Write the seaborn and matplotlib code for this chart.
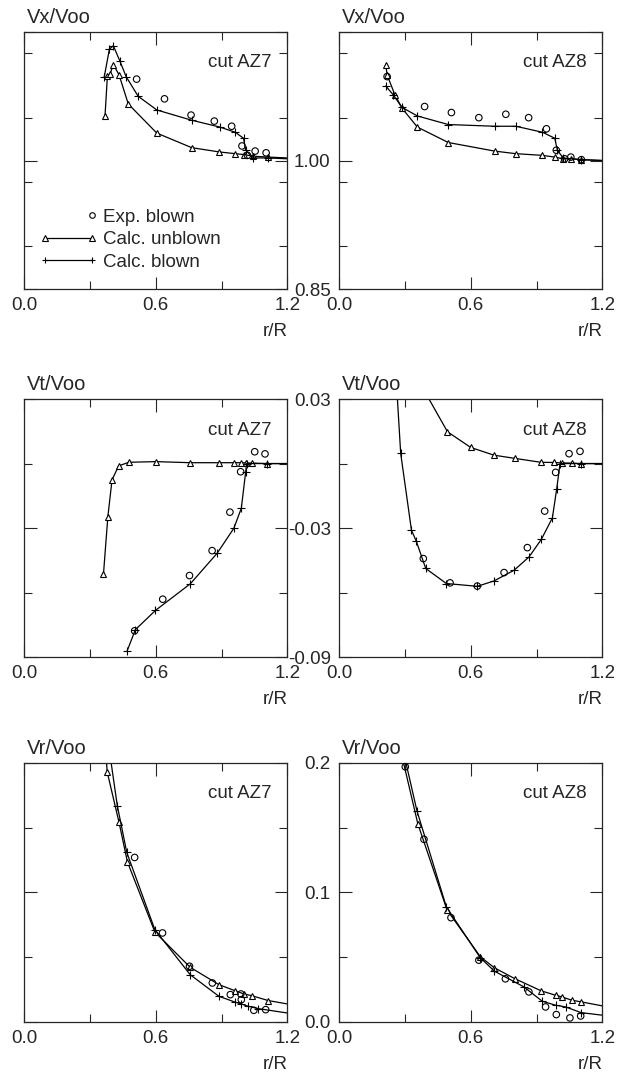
import matplotlib
matplotlib.use("Agg")
import matplotlib.pyplot as plt
import seaborn as sns
from matplotlib.lines import Line2D
from matplotlib.legend_handler import HandlerLine2D
from matplotlib.ticker import MultipleLocator

# ---- Vx/Voo, cut AZ7
vx7_unb_r = [0.369, 0.380, 0.392, 0.407, 0.433, 0.475, 0.605, 0.764, 0.890, 0.962, 1.000, 1.045, 1.113, 1.200]
vx7_unb_v = [1.052, 1.099, 1.101, 1.112, 1.100, 1.066, 1.032, 1.015, 1.010, 1.008, 1.007, 1.005, 1.004, 1.003]
vx7_bl_r = [0.365, 0.389, 0.407, 0.437, 0.465, 0.520, 0.605, 0.764, 0.893, 0.962, 1.000, 1.010, 1.045, 1.113, 1.200]
vx7_bl_v = [1.097, 1.130, 1.134, 1.116, 1.098, 1.075, 1.059, 1.047, 1.039, 1.033, 1.026, 1.012, 1.003, 1.003, 1.002]
vx7_exp_r = [0.513, 0.640, 0.761, 0.867, 0.946, 0.993, 1.018, 1.053, 1.103]
vx7_exp_v = [1.095, 1.072, 1.053, 1.046, 1.040, 1.017, 1.006, 1.011, 1.009]

# ---- Vx/Voo, cut AZ8
vx8_unb_r = [0.213, 0.219, 0.254, 0.287, 0.357, 0.498, 0.709, 0.805, 0.927, 0.983, 1.021, 1.059, 1.104, 1.200]
vx8_unb_v = [1.112, 1.100, 1.077, 1.061, 1.039, 1.021, 1.011, 1.008, 1.006, 1.004, 1.002, 1.002, 1.001, 1.000]
vx8_bl_r = [0.213, 0.246, 0.287, 0.357, 0.498, 0.709, 0.805, 0.927, 0.983, 0.995, 1.021, 1.104, 1.200]
vx8_bl_v = [1.087, 1.077, 1.062, 1.052, 1.042, 1.040, 1.040, 1.033, 1.026, 1.012, 1.003, 1.001, 1.000]
vx8_exp_r = [0.219, 0.390, 0.512, 0.637, 0.760, 0.864, 0.945, 0.990, 1.028, 1.056, 1.104]
vx8_exp_v = [1.098, 1.063, 1.056, 1.050, 1.054, 1.050, 1.037, 1.012, 1.002, 1.004, 1.001]

# ---- Vt/Voo, cut AZ7
vt7_unb_r = [0.362, 0.382, 0.401, 0.431, 0.477, 0.602, 0.758, 0.888, 0.956, 0.987, 1.010, 1.040, 1.109, 1.200]
vt7_unb_v = [-0.0514, -0.0247, -0.0076, -0.0011, 0.0006, 0.0009, 0.0004, 0.0004, 0.0004, 0.0004, 0.0003, 0.0002, 0.0, 0.0]
vt7_bl_r = [0.469, 0.507, 0.599, 0.758, 0.880, 0.956, 0.990, 1.010, 1.014, 1.109, 1.200]
vt7_bl_v = [-0.0874, -0.0773, -0.0683, -0.0559, -0.0417, -0.0301, -0.0208, -0.0038, 0.0, 0.0, 0.0]
vt7_exp_r = [0.504, 0.632, 0.754, 0.857, 0.938, 0.987, 1.051, 1.098]
vt7_exp_v = [-0.0778, -0.0631, -0.0521, -0.0405, -0.0226, -0.0038, 0.0055, 0.0045]

# ---- Vt/Voo, cut AZ8
vt8_unb_r = [0.410, 0.494, 0.600, 0.706, 0.802, 0.919, 0.980, 1.018, 1.063, 1.101, 1.200]
vt8_unb_v = [0.0300, 0.0148, 0.0075, 0.0039, 0.0024, 0.0006, 0.0005, 0.0003, 0.0002, 0.0, 0.0]
vt8_bl_r = [0.266, 0.281, 0.330, 0.352, 0.395, 0.489, 0.630, 0.706, 0.798, 0.866, 0.922, 0.972, 0.992, 1.007, 1.101, 1.200]
vt8_bl_v = [0.0300, 0.0047, -0.0310, -0.0361, -0.0488, -0.0558, -0.0571, -0.0546, -0.0496, -0.0434, -0.0352, -0.0253, -0.0116, 0.0, 0.0, 0.0]
vt8_exp_r = [0.384, 0.506, 0.630, 0.752, 0.858, 0.937, 0.987, 1.048, 1.098]
vt8_exp_v = [-0.0442, -0.0555, -0.0570, -0.0507, -0.0391, -0.0221, -0.0041, 0.0046, 0.0057]

# ---- Vr/Voo, cut AZ7
vr7_unb_r = [0.376, 0.379, 0.433, 0.471, 0.596, 0.757, 0.888, 0.960, 1.003, 1.037, 1.113, 1.200]
vr7_unb_v = [0.200, 0.193, 0.154, 0.1236, 0.0695, 0.0422, 0.0288, 0.0242, 0.0216, 0.0203, 0.0165, 0.0139]
vr7_bl_r = [0.397, 0.425, 0.468, 0.596, 0.757, 0.888, 0.960, 0.990, 1.021, 1.067, 1.200]
vr7_bl_v = [0.200, 0.167, 0.131, 0.0713, 0.0365, 0.0198, 0.0154, 0.0139, 0.0121, 0.0103, 0.0069]
vr7_exp_r = [0.504, 0.631, 0.754, 0.858, 0.940, 0.988, 0.990, 1.047, 1.101]
vr7_exp_v = [0.127, 0.0687, 0.0430, 0.0301, 0.0211, 0.0216, 0.0172, 0.0090, 0.0095]

# ---- Vr/Voo, cut AZ8
vr8_unb_r = [0.294, 0.359, 0.492, 0.644, 0.708, 0.800, 0.921, 0.987, 1.014, 1.060, 1.103, 1.200]
vr8_unb_v = [0.200, 0.153, 0.0865, 0.0503, 0.0418, 0.0335, 0.0240, 0.0206, 0.0194, 0.0168, 0.0155, 0.0124]
vr8_bl_r = [0.305, 0.355, 0.489, 0.644, 0.708, 0.842, 0.926, 0.987, 1.032, 1.103, 1.200]
vr8_bl_v = [0.200, 0.163, 0.0888, 0.0495, 0.0392, 0.0271, 0.0160, 0.0129, 0.0116, 0.0072, 0.0052]
vr8_exp_r = [0.302, 0.387, 0.510, 0.637, 0.758, 0.865, 0.941, 0.990, 1.052, 1.101]
vr8_exp_v = [0.197, 0.141, 0.0805, 0.0477, 0.0333, 0.0232, 0.0116, 0.0057, 0.0031, 0.0046]

x_ticks = [0.0, 0.6, 1.2]
x_ticklabels = ["0.0", "0.6", "1.2"]
vx_ticks, vx_labels = [0.85, 1.00, 1.15], ["0.85", "1.00", ""]
vt_ticks, vt_labels = [-0.09, -0.03, 0.03], ["-0.09", "-0.03", "0.03"]
vr_ticks, vr_labels = [0.0, 0.1, 0.2], ["0.0", "0.1", "0.2"]

sns.set_style("ticks")
plt.rcParams["font.family"] = ["Liberation Sans", "DejaVu Sans"]
plt.rcParams["axes.linewidth"] = 0.9

FS = 13.5


class RightMarkerHandler(HandlerLine2D):
    # single legend marker placed where the right marker of the line handles sits
    def create_artists(self, legend, orig_handle, xdescent, ydescent, width, height, fontsize, trans):
        arts = super().create_artists(legend, orig_handle, xdescent, ydescent, width, height, fontsize, trans)
        for a in arts:
            xd = list(a.get_xdata())
            xd[-1] = xd[-1] - self._marker_pad * fontsize
            a.set_xdata(xd)
            a.set_markevery([len(xd) - 1])
        return arts


def draw_curve(ax, r, v, marker, ms, ylim):
    keep = [i for i, (a, b) in enumerate(zip(r, v)) if a < 1.19 and ylim[0] < b < ylim[1] - 1e-9]
    sns.lineplot(x=r, y=v, ax=ax, sort=False, estimator=None, color="black", lw=0.9,
                 marker=marker, markersize=ms, markevery=keep, mfc="white", mec="black", mew=0.8)


def draw_panel(ax, unb, bl, exp, ticks, ticklabels, ylabel, cut, show_ylabels):
    ylim = (ticks[0], ticks[-1])
    draw_curve(ax, unb[0], unb[1], "^", 4.4, ylim)
    draw_curve(ax, bl[0], bl[1], "+", 5.5, ylim)
    sns.scatterplot(x=exp[0], y=exp[1], ax=ax, marker="o", s=22, facecolor="none",
                    edgecolor="black", linewidth=0.8, zorder=3)
    ax.set_xlim(0, 1.2)
    ax.set_ylim(*ylim)
    ax.set_xticks(x_ticks)
    ax.set_xticklabels(x_ticklabels, fontsize=FS)
    ax.xaxis.set_minor_locator(MultipleLocator(0.3))
    ax.set_yticks(ticks)
    ax.set_yticklabels(ticklabels, fontsize=FS)
    ax.yaxis.set_minor_locator(MultipleLocator((ticks[-1] - ticks[0]) / 4))
    ax.tick_params(which="both", direction="in", top=True, right=True, width=0.8,
                   labelleft=show_ylabels, pad=6)
    ax.tick_params(which="major", length=9)
    ax.tick_params(which="minor", length=5.5)
    for s in ax.spines.values():
        s.set_visible(True)
        s.set_linewidth(0.9)
    ax.set_ylabel("")
    ax.set_xlabel("r/R", loc="right", fontsize=FS, labelpad=6)
    ax.text(0.01, 1.02, ylabel, transform=ax.transAxes, ha="left", va="bottom", fontsize=14.5)
    ax.text(0.94, 0.88, cut, transform=ax.transAxes, ha="right", va="center", fontsize=13.5)


fig = plt.figure(figsize=(6.19, 10.78), dpi=100)
left_x, right_x, w = 0.0388, 0.5477, 0.4255
rows = [(0.7319, 0.2384), (0.3905, 0.2393), (0.0520, 0.2403)]

panels = [
    ((vx7_unb_r, vx7_unb_v), (vx7_bl_r, vx7_bl_v), (vx7_exp_r, vx7_exp_v),
     (vx8_unb_r, vx8_unb_v), (vx8_bl_r, vx8_bl_v), (vx8_exp_r, vx8_exp_v),
     vx_ticks, vx_labels, "Vx/Voo"),
    ((vt7_unb_r, vt7_unb_v), (vt7_bl_r, vt7_bl_v), (vt7_exp_r, vt7_exp_v),
     (vt8_unb_r, vt8_unb_v), (vt8_bl_r, vt8_bl_v), (vt8_exp_r, vt8_exp_v),
     vt_ticks, vt_labels, "Vt/Voo"),
    ((vr7_unb_r, vr7_unb_v), (vr7_bl_r, vr7_bl_v), (vr7_exp_r, vr7_exp_v),
     (vr8_unb_r, vr8_unb_v), (vr8_bl_r, vr8_bl_v), (vr8_exp_r, vr8_exp_v),
     vr_ticks, vr_labels, "Vr/Voo"),
]

first_ax = None
for (bottom, h), p in zip(rows, panels):
    ax_l = fig.add_axes([left_x, bottom, w, h])
    ax_r = fig.add_axes([right_x, bottom, w, h])
    draw_panel(ax_l, p[0], p[1], p[2], p[6], p[7], p[8], "cut AZ7", False)
    draw_panel(ax_r, p[3], p[4], p[5], p[6], p[7], p[8], "cut AZ8", True)
    if first_ax is None:
        first_ax = ax_l

h_exp = Line2D([], [], ls="none", marker="o", mfc="none", mec="black", mew=0.8, ms=4)
h_unb = Line2D([], [], color="black", lw=0.9, marker="^", mfc="white", mec="black", mew=0.8, ms=4)
h_bl = Line2D([], [], color="black", lw=0.9, marker="+", mec="black", mew=0.8, ms=5)
first_ax.legend([h_exp, h_unb, h_bl], ["Exp. blown", "Calc. unblown", "Calc. blown"],
                loc="lower left", bbox_to_anchor=(0.058, 0.07), frameon=False, numpoints=2,
                handlelength=3.1, handletextpad=0.3, labelspacing=0.3, fontsize=13.5,
                borderaxespad=0, borderpad=0,
                handler_map={h_exp: RightMarkerHandler(numpoints=1)})

fig.savefig("out.png", dpi=100, facecolor="white")
